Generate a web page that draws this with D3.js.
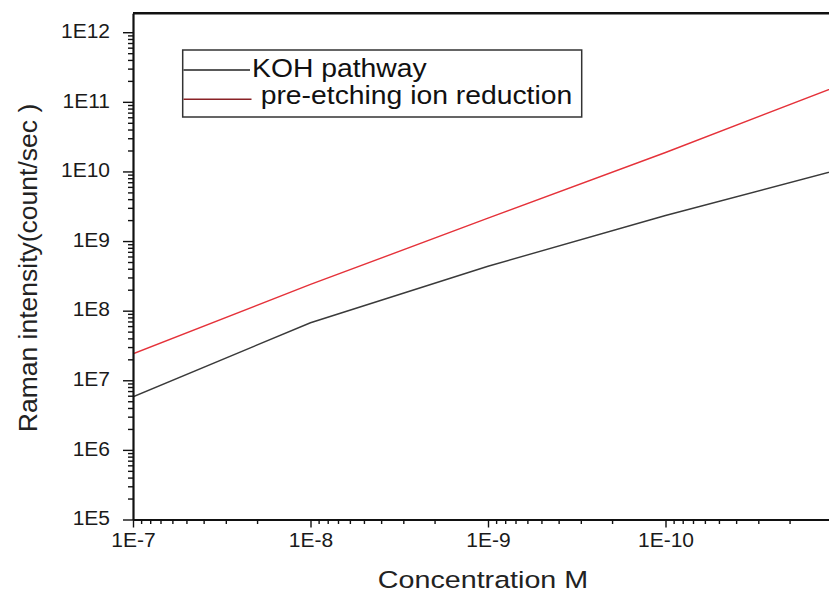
<!DOCTYPE html>
<html><head><meta charset="utf-8">
<script src="https://cdn.jsdelivr.net/npm/d3@7"></script>
<style>body{margin:0;background:#fff;} svg{display:block;}</style>
</head><body><svg id="c" width="829" height="595"></svg>
<script>
// ---- data ----
const concentrations = [1e-7, 1e-8, 1e-9, 1e-10, 1e-11];
const kohPathway     = [5.8e6, 6.7e7, 4.35e8, 2.33e9, 1.1e10];
const preEtching     = [2.4e7, 2.38e8, 2.13e9, 1.87e10, 1.8e11];
const seriesNames    = ["KOH pathway", "pre-etching ion reduction"];
const xTickValues    = [1e-7, 1e-8, 1e-9, 1e-10];
const xTickLabels    = ["1E-7", "1E-8", "1E-9", "1E-10"];
const yTickValues    = [1e5, 1e6, 1e7, 1e8, 1e9, 1e10, 1e11, 1e12];
const yTickLabels    = ["1E5", "1E6", "1E7", "1E8", "1E9", "1E10", "1E11", "1E12"];
const xDomain = [1e-7, 1e-11];
const yDomain = [1e5, 1.87e12];
const xTitle = "Concentration M";
const yTitle = "Raman intensity(count/sec )";

// ---- layout ----
const W = 829, H = 595;
const L = 133, R = 843, T = 13.3, B = 519.5;
const FONT = "'Liberation Sans', Arial, sans-serif";
const FX = 1.13;

const svg = d3.select("#c");
const x = d3.scaleLog().domain(xDomain).range([L, R]);
const y = d3.scaleLog().domain(yDomain).range([B, T]);

function stretch(sel, f) {
  sel.each(function () {
    const w = this.getComputedTextLength();
    d3.select(this).attr("textLength", w * f).attr("lengthAdjust", "spacingAndGlyphs");
  });
}

// minor tick values
const xMinor = [];
for (let e = -8; e >= -11; e--) for (let k = 2; k <= 9; k++) {
  const v = k * Math.pow(10, e);
  if (x(v) <= W) xMinor.push(v);
}
const yMinor = [];
for (let e = 5; e <= 11; e++) for (let k = 2; k <= 9; k++) {
  const v = k * Math.pow(10, e);
  if (v < yDomain[1]) yMinor.push(v);
}

// clip
svg.append("clipPath").attr("id", "plot").append("rect")
  .attr("x", L).attr("y", T).attr("width", R - L).attr("height", B - T);

// data lines
const lineGen = d3.line().x(d => x(d[0])).y(d => y(d[1]));
const g = svg.append("g").attr("clip-path", "url(#plot)");
g.append("path").datum(concentrations.map((c, i) => [c, kohPathway[i]]))
  .attr("d", lineGen).attr("fill", "none").attr("stroke", "#3a3a3a").attr("stroke-width", 1.4);
g.append("path").datum(concentrations.map((c, i) => [c, preEtching[i]]))
  .attr("d", lineGen).attr("fill", "none").attr("stroke", "#e5323a").attr("stroke-width", 1.4);

// axes
const xAxis = svg.append("g").attr("transform", `translate(0,${B})`)
  .call(d3.axisBottom(x).tickValues(xTickValues).tickFormat((d, i) => xTickLabels[i]).tickSize(8).tickPadding(5).tickSizeOuter(0));
svg.append("g").attr("transform", `translate(0,${B})`)
  .call(d3.axisBottom(x).tickValues(xMinor).tickFormat("").tickSize(4.5).tickSizeOuter(0))
  .select(".domain").remove();
const yAxis = svg.append("g").attr("transform", `translate(${L},0)`)
  .call(d3.axisLeft(y).tickValues(yTickValues).tickFormat((d, i) => yTickLabels[i]).tickSize(10).tickPadding(13).tickSizeOuter(0));
svg.append("g").attr("transform", `translate(${L},0)`)
  .call(d3.axisLeft(y).tickValues(yMinor).tickFormat("").tickSize(5).tickSizeOuter(0))
  .select(".domain").remove();

svg.selectAll(".tick line").attr("stroke", "#111").attr("stroke-width", 1.4);
svg.selectAll(".domain").attr("stroke", "#111").attr("stroke-width", 2.2);
svg.selectAll(".tick text").attr("font-family", FONT).attr("font-size", 20).attr("fill", "#1a1a1a");
yAxis.selectAll(".tick text").attr("dy", "0.26em");
stretch(svg.selectAll(".tick text"), 1.05);

// frame (top & right; right is beyond the visible edge)
svg.append("path")
  .attr("d", `M${L},${T}H${R}V${B}`)
  .attr("fill", "none").attr("stroke", "#111").attr("stroke-width", 2.4);

// axis titles
const xt = svg.append("text").attr("x", 483).attr("y", 588)
  .attr("text-anchor", "middle").attr("font-family", FONT).attr("font-size", 24.5)
  .attr("fill", "#222").text(xTitle);
stretch(xt, 1.17);
svg.append("text").attr("transform", `translate(37,268) rotate(-90)`)
  .attr("text-anchor", "middle").attr("font-family", FONT).attr("font-size", 26.5)
  .attr("fill", "#222").text(yTitle);

// legend
const lg = svg.append("g");
lg.append("rect").attr("x", 182.7).attr("y", 50).attr("width", 399).attr("height", 67)
  .attr("fill", "#fff").attr("stroke", "#333").attr("stroke-width", 1.5);
lg.append("line").attr("x1", 183.5).attr("x2", 250).attr("y1", 70).attr("y2", 70)
  .attr("stroke", "#222").attr("stroke-width", 1.4);
lg.append("line").attr("x1", 183.5).attr("x2", 251.5).attr("y1", 99.3).attr("y2", 99.3)
  .attr("stroke", "#8a2226").attr("stroke-width", 1.4);
const t1 = lg.append("text").attr("x", 252).attr("y", 76.7).attr("font-family", FONT)
  .attr("font-size", 25.5).attr("fill", "#111").text(seriesNames[0]);
const t2 = lg.append("text").attr("x", 260.7).attr("y", 104).attr("font-family", FONT)
  .attr("font-size", 25.5).attr("fill", "#111").text(seriesNames[1]);
stretch(t1, 1.11); stretch(t2, 1.11);
</script></body></html>
